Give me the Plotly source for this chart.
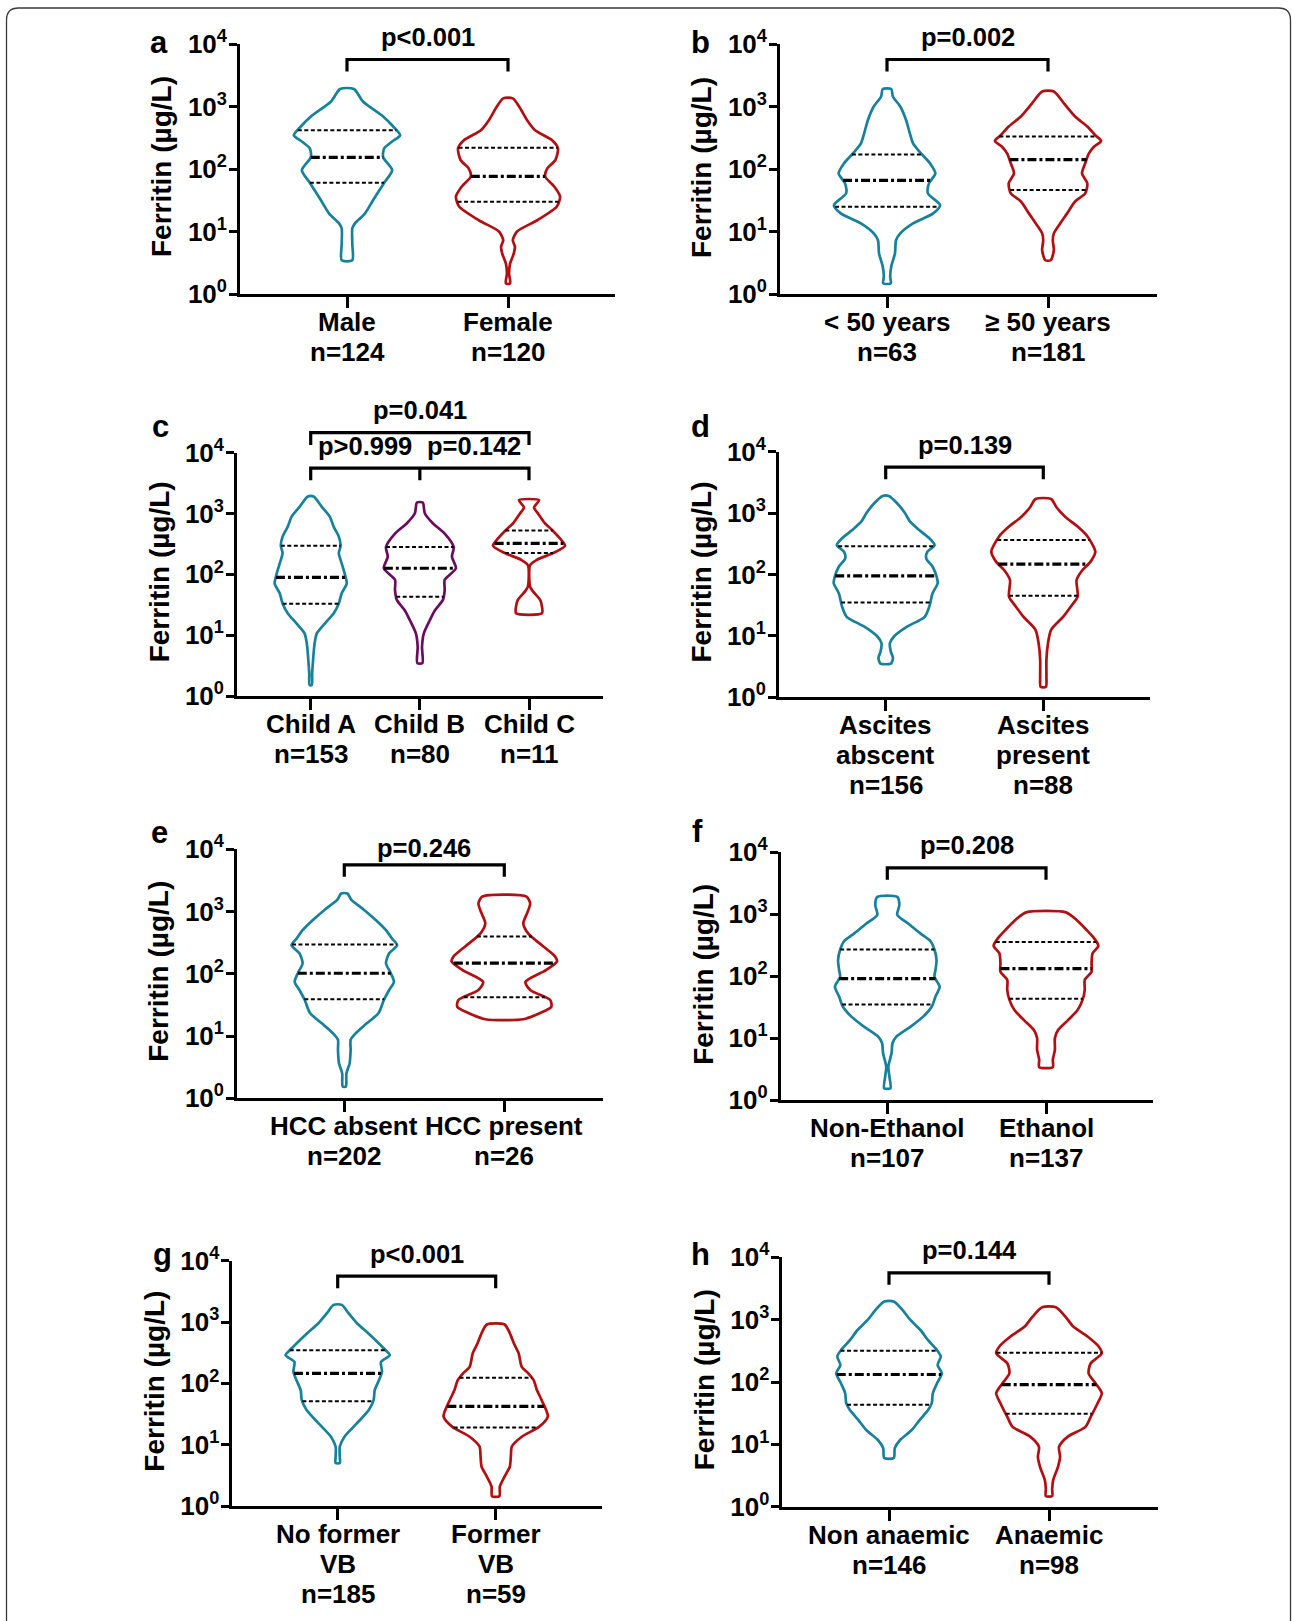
import numpy as np
import plotly.graph_objects as go

W, H = 1292, 1621
FONT = "Liberation Sans, Arial, Helvetica, sans-serif"
TEAL = "#17819b"
RED = "#b10f12"
PURPLE = "#6b0c5e"

# ---------------- DATA ----------------
y_tickvals = [1, 10, 100, 1000, 10000]
y_ticktext = ["10<sup>0</sup>", "10<sup>1</sup>", "10<sup>2</sup>", "10<sup>3</sup>", "10<sup>4</sup>"]
y_title = "Ferritin (µg/L)"

# (a) sex
a_labels = [["Male", "n=124"], ["Female", "n=120"]]
a_pvals = ["p&lt;0.001"]
male_log = [3.28, 3.08, 2.84, 2.68, 2.54, 2.44, 2.33, 2.19, 1.98, 1.78, 1.50, 1.29, 1.13, 1.05, 0.80, 0.54]
male_dens = [0.13, 0.30, 0.68, 0.87, 1.00, 0.85, 0.70, 0.68, 0.85, 0.70, 0.49, 0.34, 0.15, 0.10, 0.10, 0.10]
male_quart = [60, 154, 417]
female_log = [3.13, 3.00, 2.78, 2.62, 2.46, 2.33, 2.14, 2.01, 1.88, 1.72, 1.56, 1.40, 1.18, 1.00, 0.86, 0.76, 0.65, 0.49, 0.33, 0.17]
female_dens = [0.09, 0.21, 0.36, 0.51, 0.83, 0.94, 0.89, 0.74, 0.70, 0.87, 0.98, 0.92, 0.55, 0.17, 0.09, 0.13, 0.11, 0.04, 0.02, 0.04]
female_quart = [30, 76, 219]

# (b) age
b_labels = [["&lt; 50 years", "n=63"], ["≥ 50 years", "n=181"]]
b_pvals = ["p=0.002"]
young_log = [3.28, 3.16, 3.00, 2.78, 2.57, 2.41, 2.25, 2.09, 1.93, 1.77, 1.61, 1.42, 1.29, 1.13, 0.97, 0.86, 0.65, 0.44, 0.28, 0.17]
young_dens = [0.08, 0.11, 0.25, 0.36, 0.43, 0.49, 0.64, 0.81, 0.91, 0.79, 0.77, 1.00, 0.87, 0.49, 0.25, 0.17, 0.15, 0.08, 0.06, 0.07]
young_quart = [25, 66, 170]
old_log = [3.24, 3.05, 2.84, 2.68, 2.54, 2.45, 2.36, 2.25, 2.09, 1.93, 1.77, 1.61, 1.48, 1.29, 1.13, 0.97, 0.86, 0.70, 0.54]
old_dens = [0.11, 0.30, 0.51, 0.74, 0.89, 1.00, 0.87, 0.77, 0.70, 0.64, 0.74, 0.70, 0.51, 0.36, 0.23, 0.11, 0.09, 0.11, 0.05]
old_quart = [46, 141, 331]

# (c) Child-Pugh
c_labels = [["Child A", "n=153"], ["Child B", "n=80"], ["Child C", "n=11"]]
c_pvals = ["p=0.041", "p&gt;0.999", "p=0.142"]
childA_log = [3.28, 3.11, 2.95, 2.78, 2.62, 2.47, 2.35, 2.18, 2.02, 1.85, 1.69, 1.52, 1.36, 1.19, 1.03, 0.87, 0.70, 0.54, 0.37, 0.18]
childA_dens = [0.08, 0.31, 0.53, 0.64, 0.78, 0.83, 0.78, 0.86, 0.94, 1.00, 0.86, 0.78, 0.64, 0.39, 0.17, 0.11, 0.08, 0.06, 0.04, 0.03]
childA_quart = [33, 89, 295]
childB_log = [3.18, 3.00, 2.84, 2.67, 2.45, 2.29, 2.10, 1.91, 1.74, 1.58, 1.41, 1.25, 1.03, 0.81, 0.54]
childB_dens = [0.08, 0.14, 0.36, 0.69, 0.94, 0.89, 1.00, 0.69, 0.69, 0.64, 0.42, 0.28, 0.11, 0.06, 0.07]
childB_quart = [43, 126, 282]
childC_log = [3.22, 3.10, 3.00, 2.84, 2.73, 2.59, 2.47, 2.35, 2.24, 2.15, 1.80, 1.72, 1.58, 1.47, 1.36]
childC_dens = [0.28, 0.14, 0.25, 0.44, 0.64, 0.86, 1.00, 0.67, 0.22, 0.03, 0.03, 0.11, 0.31, 0.36, 0.36]
childC_quart = [224, 324, 525]

# (d) ascites
d_labels = [["Ascites", "abscent", "n=156"], ["Ascites", "present", "n=88"]]
d_pvals = ["p=0.139"]
noasc_log = [3.28, 3.16, 3.00, 2.86, 2.72, 2.59, 2.48, 2.37, 2.26, 2.13, 1.96, 1.86, 1.69, 1.48, 1.31, 1.15, 0.99, 0.88, 0.74, 0.64, 0.55]
noasc_dens = [0.06, 0.22, 0.37, 0.47, 0.65, 0.84, 0.94, 0.80, 0.78, 0.90, 0.98, 1.00, 0.90, 0.84, 0.75, 0.41, 0.16, 0.08, 0.10, 0.14, 0.10]
noasc_quart = [35, 95, 288]
asc_log = [3.23, 3.10, 2.94, 2.78, 2.62, 2.37, 2.21, 2.07, 1.91, 1.64, 1.48, 1.31, 1.10, 0.88, 0.61, 0.34, 0.17]
asc_dens = [0.15, 0.25, 0.42, 0.66, 0.85, 1.00, 0.91, 0.75, 0.64, 0.66, 0.53, 0.38, 0.15, 0.09, 0.06, 0.06, 0.05]
asc_quart = [45, 148, 363]

# (e) HCC
e_labels = [["HCC absent", "n=202"], ["HCC present", "n=26"]]
e_pvals = ["p=0.246"]
nohcc_log = [3.29, 3.19, 3.03, 2.86, 2.70, 2.57, 2.46, 2.33, 2.17, 2.01, 1.87, 1.74, 1.58, 1.37, 1.20, 1.04, 0.94, 0.78, 0.56, 0.40, 0.19]
nohcc_dens = [0.06, 0.13, 0.37, 0.60, 0.79, 0.90, 1.00, 0.85, 0.79, 0.88, 0.94, 0.85, 0.75, 0.65, 0.42, 0.21, 0.12, 0.12, 0.10, 0.04, 0.03]
nohcc_quart = [39, 102, 295]
hcc_log = [3.24, 3.13, 2.97, 2.81, 2.65, 2.44, 2.28, 2.20, 2.06, 1.87, 1.74, 1.58, 1.47, 1.37, 1.27]
hcc_dens = [0.42, 0.49, 0.43, 0.36, 0.45, 0.74, 0.96, 1.00, 0.79, 0.40, 0.49, 0.87, 0.89, 0.68, 0.36]
hcc_quart = [42, 148, 398]

# (f) aetiology
f_labels = [["Non-Ethanol", "n=107"], ["Ethanol", "n=137"]]
f_pvals = ["p=0.208"]
noeth_log = [3.28, 3.15, 2.99, 2.85, 2.69, 2.56, 2.43, 2.26, 2.10, 1.99, 1.83, 1.67, 1.51, 1.35, 1.18, 1.02, 0.92, 0.75, 0.54, 0.38, 0.19]
noeth_dens = [0.19, 0.23, 0.19, 0.40, 0.63, 0.83, 0.90, 0.94, 0.92, 0.90, 1.00, 0.92, 0.85, 0.69, 0.44, 0.17, 0.10, 0.08, 0.02, 0.04, 0.06]
noeth_quart = [35, 91, 269]
eth_log = [3.03, 2.91, 2.75, 2.61, 2.49, 2.37, 2.21, 2.07, 1.94, 1.78, 1.62, 1.45, 1.29, 1.13, 1.00, 0.81, 0.65, 0.53]
eth_dens = [0.38, 0.58, 0.77, 0.92, 1.00, 0.89, 0.87, 0.87, 0.74, 0.74, 0.70, 0.60, 0.42, 0.23, 0.17, 0.17, 0.13, 0.13]
eth_quart = [43, 132, 355]

# (g) variceal bleeding
g_labels = [["No former", "VB", "n=185"], ["Former", "VB", "n=59"]]
g_pvals = ["p&lt;0.001"]
novb_log = [3.28, 3.14, 2.98, 2.82, 2.65, 2.54, 2.46, 2.35, 2.19, 2.05, 1.89, 1.73, 1.57, 1.35, 1.13, 0.97, 0.80, 0.70]
novb_dens = [0.08, 0.21, 0.37, 0.58, 0.79, 0.92, 1.00, 0.83, 0.85, 0.79, 0.71, 0.69, 0.60, 0.37, 0.13, 0.04, 0.04, 0.04]
novb_quart = [51, 145, 347]
vb_log = [2.96, 2.82, 2.65, 2.49, 2.27, 2.16, 2.05, 1.89, 1.73, 1.46, 1.29, 1.13, 0.97, 0.80, 0.64, 0.48, 0.32, 0.16]
vb_dens = [0.17, 0.27, 0.35, 0.44, 0.50, 0.63, 0.73, 0.79, 0.88, 1.00, 0.83, 0.50, 0.31, 0.29, 0.27, 0.17, 0.08, 0.07]
vb_quart = [19, 42, 123]

# (h) anaemia
h_labels = [["Non anaemic", "n=146"], ["Anaemic", "n=98"]]
h_pvals = ["p=0.144"]
noanae_log = [3.29, 3.16, 3.00, 2.83, 2.67, 2.51, 2.41, 2.27, 2.14, 1.98, 1.82, 1.66, 1.55, 1.39, 1.23, 1.07, 0.94, 0.78]
noanae_dens = [0.09, 0.25, 0.40, 0.60, 0.74, 0.91, 0.98, 0.92, 1.00, 0.91, 0.83, 0.81, 0.74, 0.58, 0.43, 0.21, 0.11, 0.09]
noanae_quart = [43, 132, 316]
anae_log = [3.20, 3.05, 2.89, 2.73, 2.57, 2.46, 2.30, 2.14, 1.98, 1.82, 1.66, 1.44, 1.28, 1.12, 0.96, 0.80, 0.64, 0.43, 0.29, 0.17]
anae_dens = [0.13, 0.31, 0.46, 0.73, 0.94, 1.00, 0.79, 0.75, 0.88, 1.00, 0.92, 0.79, 0.69, 0.35, 0.19, 0.21, 0.17, 0.08, 0.06, 0.06]
anae_quart = [31, 91, 295]

# ---------------- LAYOUT (pixel geometry of each panel) ----------------
# axis-left px, axis-right px, top px (10^4), bottom px (10^0), first cat px, last cat px
geom = {
    "a": (240.0, 615.0, 44.0, 294.0, 347.0, 508.0),
    "b": (780.0, 1157.0, 44.0, 294.0, 887.0, 1048.0),
    "c": (237.0, 603.0, 452.7, 696.0, 310.7, 529.0),
    "d": (779.0, 1150.0, 451.7, 697.3, 885.7, 1043.3),
    "e": (237.0, 603.0, 849.3, 1098.3, 344.3, 504.3),
    "f": (780.7, 1153.0, 852.3, 1100.0, 887.3, 1046.0),
    "g": (232.3, 601.7, 1260.7, 1506.0, 337.7, 495.7),
    "h": (782.3, 1158.0, 1257.3, 1506.7, 889.0, 1049.0),
}
letter_pos = {"a": (159, 53), "b": (700, 53), "c": (160, 437), "d": (700, 437),
              "e": (159, 843), "f": (697, 842), "g": (162, 1265), "h": (700, 1265)}

panels = [
    ("a", a_labels, [(male_log, male_dens, male_quart, TEAL), (female_log, female_dens, female_quart, RED)], a_pvals),
    ("b", b_labels, [(young_log, young_dens, young_quart, TEAL), (old_log, old_dens, old_quart, RED)], b_pvals),
    ("c", c_labels, [(childA_log, childA_dens, childA_quart, TEAL), (childB_log, childB_dens, childB_quart, PURPLE),
                     (childC_log, childC_dens, childC_quart, RED)], c_pvals),
    ("d", d_labels, [(noasc_log, noasc_dens, noasc_quart, TEAL), (asc_log, asc_dens, asc_quart, RED)], d_pvals),
    ("e", e_labels, [(nohcc_log, nohcc_dens, nohcc_quart, TEAL), (hcc_log, hcc_dens, hcc_quart, RED)], e_pvals),
    ("f", f_labels, [(noeth_log, noeth_dens, noeth_quart, TEAL), (eth_log, eth_dens, eth_quart, RED)], f_pvals),
    ("g", g_labels, [(novb_log, novb_dens, novb_quart, TEAL), (vb_log, vb_dens, vb_quart, RED)], g_pvals),
    ("h", h_labels, [(noanae_log, noanae_dens, noanae_quart, TEAL), (anae_log, anae_dens, anae_quart, RED)], h_pvals),
]

HALF = 0.33          # max half-width of a violin, in category units
AX_W = 2.7
TXT = 25.5           # p-values
TITLE = 28           # y-axis titles
CAT = 26             # category labels
CAT_FIRST = 37       # px from x-axis line to first label baseline
CAT_PITCH = 30       # px between label baselines
TICK = 26            # y tick labels
LET = 31             # panel letters


def py2paper(py):
    return 1 - py / H


def bold(size):
    return dict(family=FONT, size=size, color="black", weight="bold")


fig = go.Figure()
layout = dict(width=W, height=H, autosize=False,
              margin=dict(l=0, r=0, t=0, b=0, pad=0, autoexpand=False),
              paper_bgcolor="white", plot_bgcolor="white", showlegend=False,
              font=dict(family=FONT, color="black", size=TXT, weight="bold"))
shapes, annotations = [], []

for i, (key, labels, violins, pvals) in enumerate(panels):
    n = i + 1
    sfx = "" if n == 1 else str(n)
    xref, yref = "x" + sfx, "y" + sfx
    L, R, top, bot, c0px, c1px = geom[key]
    ncat = len(labels)
    upp = (ncat - 1) / (c1px - c0px)
    xr = [(L - c0px) * upp, (R - c0px) * upp]

    layout["xaxis" + sfx] = dict(
        domain=[L / W, R / W], range=xr, anchor=yref, automargin=False,
        tickvals=list(range(ncat)), ticktext=[""] * ncat, ticks="outside", ticklen=11,
        tickwidth=AX_W, tickcolor="black", showline=True, linewidth=AX_W, linecolor="black",
        showgrid=False, zeroline=False, fixedrange=True, tickfont=bold(CAT))
    layout["yaxis" + sfx] = dict(
        domain=[py2paper(bot), py2paper(top)], type="log", range=[0, 4], anchor=xref, automargin=False,
        tickvals=y_tickvals, ticktext=y_ticktext, ticks="outside", ticklen=8, ticklabelstandoff=-3,
        tickwidth=AX_W, tickcolor="black", showline=True, linewidth=AX_W, linecolor="black",
        showgrid=False, zeroline=False, fixedrange=True, tickfont=bold(TICK))

    # category labels (one annotation per text line, tied to the category position)
    for ci, lines in enumerate(labels):
        for j, line in enumerate(lines):
            base = bot + CAT_FIRST + j * CAT_PITCH
            annotations.append(dict(x=ci, y=py2paper(base - 0.347 * CAT), xref=xref, yref="paper",
                                    text=line, showarrow=False, xanchor="center", yanchor="middle",
                                    font=bold(CAT)))

    for ci, (lg, dens, quart, col) in enumerate(violins):
        lg = np.asarray(lg, float)
        dens = np.asarray(dens, float)
        vals = 10 ** lg
        xs = np.concatenate([ci + HALF * dens, (ci - HALF * dens)[::-1], [ci + HALF * dens[0]]])
        ys = np.concatenate([vals, vals[::-1], [vals[0]]])
        fig.add_trace(go.Scatter(x=xs, y=ys, xaxis=xref, yaxis=yref, mode="lines",
                                 line=dict(color=col, width=2.7, shape="spline", smoothing=0.7),
                                 hoverinfo="skip", showlegend=False))
        for qi, q in enumerate(quart):
            w = HALF * np.interp(np.log10(q), lg[::-1], dens[::-1])
            if qi == 1:
                ln = dict(color="black", width=3.2, dash="9px,3px,3px,3px")
            else:
                ln = dict(color="black", width=2.0, dash="4px,2.5px")
            fig.add_trace(go.Scatter(x=[ci - w, ci + w], y=[q, q], xaxis=xref, yaxis=yref,
                                     mode="lines", line=ln, hoverinfo="skip", showlegend=False))

    # comparison brackets
    yb = py2paper(top + 15.5)
    yt = py2paper(top + 27.5)
    last = ncat - 1
    path = f"M 0,{yt} L 0,{yb} L {last},{yb} L {last},{yt}"
    if ncat == 3:
        path += f" M 1,{yb} L 1,{yt}"
    shapes.append(dict(type="path", xref=xref, yref="paper", path=path,
                       line=dict(color="black", width=3.2)))
    txt_base = top + (7.4 if key == "e" else 2.0)
    if ncat == 3:
        yb2 = py2paper(top - 20)
        yt2 = py2paper(top - 7.7)
        shapes.append(dict(type="path", xref=xref, yref="paper",
                           path=f"M 0,{yt2} L 0,{yb2} L 2,{yb2} L 2,{yt2}",
                           line=dict(color="black", width=3.2)))
        annotations.append(dict(x=1, y=py2paper(top - 33.4 - 0.347 * TXT), xref=xref, yref="paper",
                                text=pvals[0], showarrow=False, xanchor="center", yanchor="middle",
                                font=bold(TXT)))
        for k, xpos in enumerate([0.5, 1.5]):
            annotations.append(dict(x=xpos, y=py2paper(top + 2.3 - 0.347 * TXT), xref=xref, yref="paper",
                                    text=pvals[k + 1], showarrow=False, xanchor="center", yanchor="middle",
                                    font=bold(TXT)))
    else:
        annotations.append(dict(x=0.5, y=py2paper(txt_base - 0.347 * TXT), xref=xref, yref="paper",
                                text=pvals[0], showarrow=False, xanchor="center", yanchor="middle",
                                font=bold(TXT)))

    # y-axis title
    annotations.append(dict(x=(L - 78) / W, y=py2paper((top + bot) / 2 - 2), xref="paper", yref="paper",
                            text=y_title, textangle=-90, showarrow=False, xanchor="center", yanchor="middle",
                            font=bold(TITLE)))
    # panel letter
    lx, lb = letter_pos[key]
    annotations.append(dict(x=lx / W, y=py2paper(lb - 0.347 * LET), xref="paper", yref="paper",
                            text=key, showarrow=False, xanchor="center", yanchor="middle",
                            font=bold(LET)))

# outer rounded frame (open at the bottom)
x0, x1 = 6.5 / W, 1290.5 / W
yt0, yb0 = py2paper(8), 0.0
rx, ry = 12 / W, 12 / H
shapes.append(dict(type="path", xref="paper", yref="paper",
                   path=(f"M {x0},{yb0} L {x0},{yt0 - ry} Q {x0},{yt0} {x0 + rx},{yt0} "
                         f"L {x1 - rx},{yt0} Q {x1},{yt0} {x1},{yt0 - ry} L {x1},{yb0}"),
                   line=dict(color="#3a3a3a", width=1.3)))

layout["shapes"] = shapes
layout["annotations"] = annotations
fig.update_layout(**layout)
fig.write_html(
    "out.html",
    config={"displayModeBar": False, "responsive": False},
    post_script=("document.documentElement.style.margin='0';document.documentElement.style.padding='0';"
                 "document.body.style.margin='0';document.body.style.padding='0';"
                 "document.documentElement.style.overflow='hidden';document.body.style.overflow='hidden';"),
)
